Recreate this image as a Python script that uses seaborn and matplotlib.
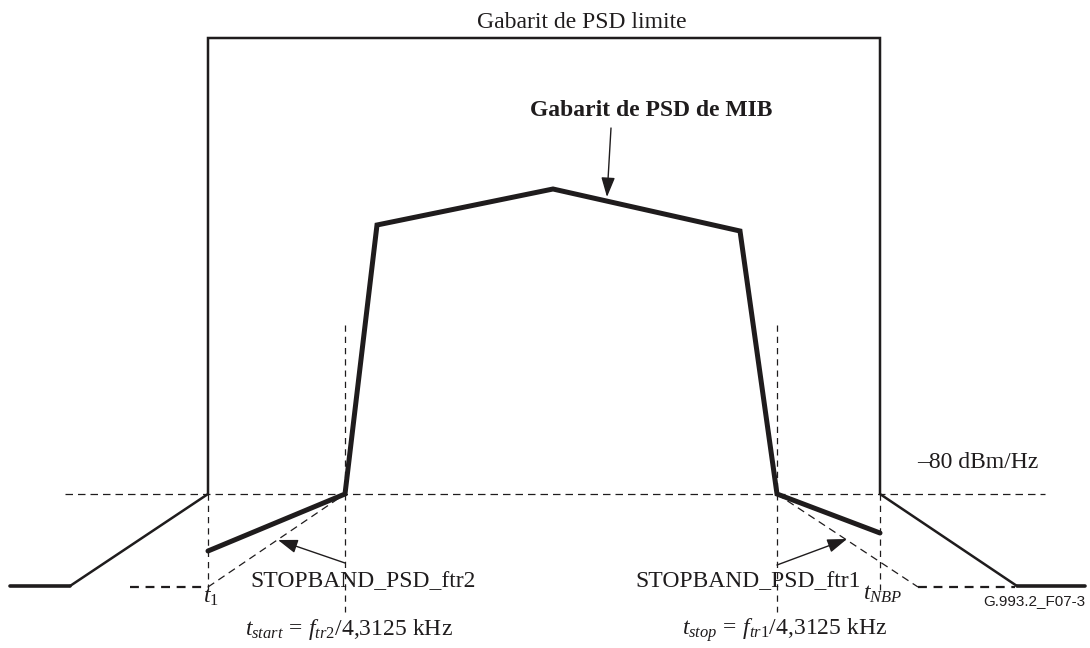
import matplotlib
matplotlib.use("Agg")
import matplotlib.pyplot as plt
import seaborn as sns
import numpy as np
import pandas as pd

# ---- data (figure drawn in pixel-like data units: x right, y down) ----
limit_x = [70, 208, 208, 880, 880, 1017]
limit_y = [586, 494, 38, 38, 494, 586]
limit_floor_left_x = [10, 70]
limit_floor_right_x = [1017, 1085]
limit_floor_y = [586, 586]

mib_x = [208, 345, 377, 553, 740, 777, 880]
mib_y = [551, 494, 225, 189, 231, 494, 533]

ref_level_x = [65, 1045]
ref_level_y = [494, 494]

sb2_x = [208, 345]
sb2_y = [587, 494]
sb2_floor_x = [130, 208]
sb1_x = [777, 918]
sb1_y = [494, 587]
sb1_floor_x = [918, 1015]
sb_floor_y = [587, 587]

vlines_x = [208, 345, 777, 880]
vlines_top = [494, 325, 325, 494]
vlines_bot = [590, 612, 612, 590]

INK = "#1f1c1d"

sns.set_theme(style="white")
plt.rcParams["font.family"] = ["Liberation Serif", "DejaVu Serif"]
plt.rcParams["mathtext.fontset"] = "custom"
plt.rcParams["mathtext.rm"] = "Liberation Serif"
plt.rcParams["mathtext.it"] = "Liberation Serif:italic"
plt.rcParams["mathtext.bf"] = "Liberation Serif:bold"

fig = plt.figure(figsize=(10.9, 6.48), dpi=100)
ax = fig.add_axes([0, 0, 1, 1])
ax.set_xlim(0, 1090)
ax.set_ylim(648, 0)
ax.axis("off")

def poly(x, y, lw, ls="-"):
    sns.lineplot(x=x, y=y, sort=False, estimator=None, ax=ax, color=INK,
                 linewidth=lw, linestyle=ls, solid_joinstyle="miter",
                 dash_capstyle="butt", legend=False)

# limit PSD mask
poly(limit_x, limit_y, 1.8)
poly(limit_floor_left_x, limit_floor_y, 2.6)
poly(limit_floor_right_x, limit_floor_y, 2.6)

# reference level and stopband dashed lines
poly(ref_level_x, ref_level_y, 0.9, (0, (6, 4)))
poly(sb2_x, sb2_y, 0.9, (0, (6, 4)))
poly(sb1_x, sb1_y, 0.9, (0, (6, 4)))
poly(sb2_floor_x, sb_floor_y, 1.6, (0, (4, 3)))
poly(sb1_floor_x, sb_floor_y, 1.6, (0, (4, 3)))
for x, t, b in zip(vlines_x, vlines_top, vlines_bot):
    poly([x, x], [t, b], 0.9, (0, (5, 4)))

# MIB PSD mask
poly(mib_x, mib_y, 3.6)

# arrows
arrow_kw = dict(arrowstyle="-|>,head_length=1.0,head_width=0.35", color=INK,
                lw=1.0, shrinkA=0, shrinkB=0)
ax.annotate("", xy=(607, 197), xytext=(611, 128), arrowprops=arrow_kw)
ax.annotate("", xy=(278, 540), xytext=(345, 563), arrowprops=arrow_kw)
ax.annotate("", xy=(847, 539), xytext=(777, 565), arrowprops=arrow_kw)

# texts
fs = 17
ax.text(582, 28, "Gabarit de PSD limite", ha="center", va="baseline", fontsize=fs, color=INK)
ax.text(530, 116, "Gabarit de PSD de MIB", ha="left", va="baseline", fontsize=fs,
        fontweight="bold", color=INK)
ax.text(917, 468, "\u201380 dBm/Hz", ha="left", va="baseline", fontsize=fs, color=INK)
ax.text(250, 587, "STOPBAND_PSD_ftr2", ha="left", va="baseline", fontsize=fs, color=INK)
ax.text(635, 587, "STOPBAND_PSD_ftr1", ha="left", va="baseline", fontsize=fs, color=INK)
ax.text(203, 603, r"$t_1$", ha="left", va="baseline", fontsize=fs, color=INK)
ax.text(863, 600, r"$t_{NBP}$", ha="left", va="baseline", fontsize=fs, color=INK)
ax.text(245, 635, r"$t_{start}\,=\,f_{tr2}$/4,3125 kHz", ha="left", va="baseline",
        fontsize=fs, color=INK)
ax.text(682, 635, r"$t_{stop}\,=\,f_{tr1}$/4,3125 kHz", ha="left", va="baseline",
        fontsize=fs, color=INK)
ax.text(1085, 605, "G.993.2_F07-3", ha="right", va="baseline", fontsize=11,
        family=["Liberation Sans", "DejaVu Sans"], color=INK)

fig.savefig("out.png", dpi=100, facecolor="white")
